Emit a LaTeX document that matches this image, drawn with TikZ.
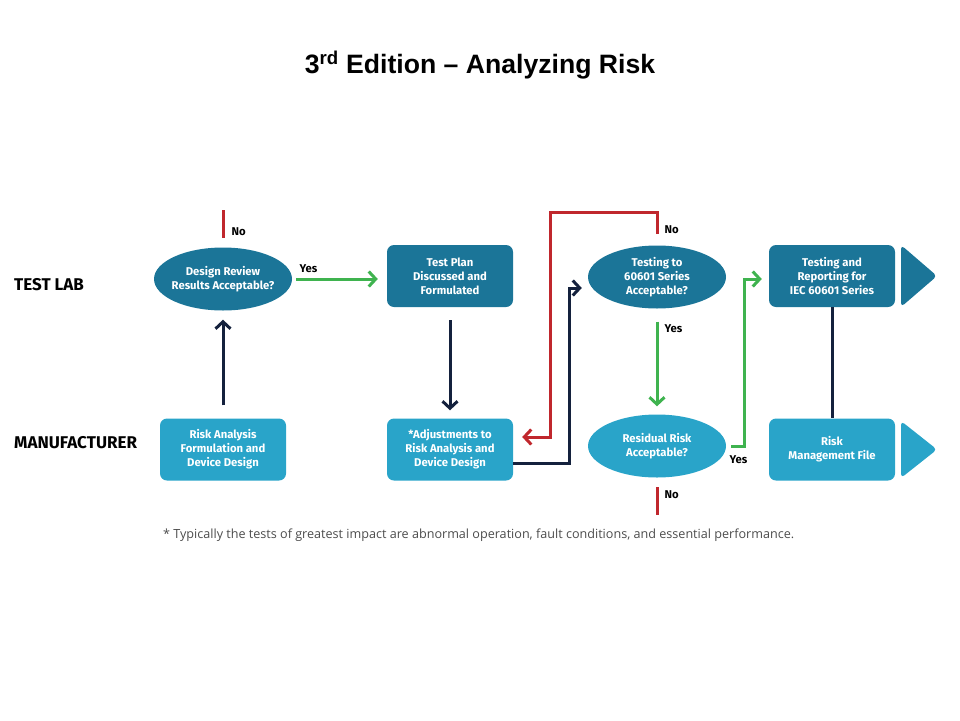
\documentclass[tikz,border=0pt]{standalone}
\usepackage{fontspec}
\setmainfont{Fira Sans}
\newfontfamily\titlefont{Liberation Sans}
\newfontfamily\notefont{Open Sans}
\usetikzlibrary{shapes.geometric, arrows.meta}

\definecolor{darkteal}{HTML}{1B7598}
\definecolor{lightteal}{HTML}{29A4C9}
\definecolor{navyline}{HTML}{14213D}
\definecolor{redline}{HTML}{C0272D}
\definecolor{greenline}{HTML}{3FB34F}

\begin{document}
\begin{tikzpicture}[x=1pt, y=-1pt,
    boxtext/.style={text=white, align=center, font=\bfseries\fontsize{11.3}{14}\selectfont},
    darkbox/.style={boxtext, fill=darkteal, rounded corners=7, minimum width=126, minimum height=62, inner sep=0},
    lightbox/.style={darkbox, fill=lightteal},
    darkoval/.style={boxtext, ellipse, fill=darkteal, minimum width=138, minimum height=63, inner ysep=0, inner xsep=-3pt},
    lightoval/.style={darkoval, fill=lightteal},
    rowlabel/.style={anchor=west, inner sep=0, font=\bfseries\fontsize{17}{20}\selectfont},
    answer/.style={anchor=west, font=\bfseries\fontsize{11.3}{13}\selectfont},
    conn/.style={line width=3pt, -{Straight Barb[length=7pt, width=15pt, line width=3pt]}},
    greenarrow/.style={conn, draw=greenline},
    redarrow/.style={conn, draw=redline},
    navyarrow/.style={conn, draw=navyline}]
  \useasboundingbox (0,0) rectangle (960,720);

  % title
  \node (title) at (480,65) {\titlefont\bfseries\fontsize{26.6}{30}\selectfont 3\textsuperscript{rd} Edition – Analyzing Risk};

  % rows
  \node[rowlabel] (lab) at (14,285) {TEST LAB};
  \node[rowlabel] (manu) at (14,443) {MANUFACTURER};

  % test lab row
  \node[darkoval] (design) at (223,279) {Design Review\\Results Acceptable?};
  \node[darkbox] (plan) at (450,276) {Test Plan\\Discussed and\\Formulated};
  \node[darkoval] (tst) at (657,277) {Testing to\\60601 Series\\Acceptable?};
  \node[darkbox] (report) at (832,276) {Testing and\\Reporting for\\IEC 60601 Series};
  \fill[darkteal, rounded corners=4] (901,245) -- (937,276) -- (901,307) -- cycle;

  % manufacturer row
  \node[lightbox] (riskan) at (223,449.5) {Risk Analysis\\Formulation and\\Device Design};
  \node[lightbox] (adj) at (450,449.5) {*Adjustments to\\Risk Analysis and\\Device Design};
  \node[lightoval] (resid) at (657,446) {Residual Risk\\Acceptable?};
  \node[lightbox] (mgmt) at (832,449.5) {Risk\\Management File};
  \fill[lightteal, rounded corners=4] (901,421) -- (937,449.5) -- (901,478) -- cycle;

  % free ends
  \coordinate (dno1) at (223,210);
  \coordinate (dno2) at (223,238);
  \coordinate (tno) at (657,234);
  \coordinate (rno1) at (657,487);
  \coordinate (rno2) at (657,515);

  % connectors
  \draw[line width=3pt, redline] (dno1) -- (dno2);
  \node[answer] (dnotext) at (228,232) {No};
  \draw[greenarrow, shorten <=4pt, shorten >=9pt] (design.east) -- (design.east -| plan.west);
  \node[answer] (dyes) at (296,269) {Yes};
  \draw[navyarrow, shorten <=13pt, shorten >=9pt] (riskan) -- (design);
  \draw[navyarrow, shorten <=13pt, shorten >=8pt] (plan) -- (adj);
  \draw[navyarrow, shorten >=6pt] ([yshift=-13.5pt]adj.east) -| (569,300) |- ([yshift=-11pt]tst.west);
  \draw[redarrow, shorten >=9pt] (tno) |- (550,212) |- ([yshift=12.5pt]adj.east);
  \node[answer] (tnotext) at (661,230) {No};
  \draw[greenarrow, shorten <=13pt, shorten >=8pt] (tst) -- (resid);
  \node[answer] (tyes) at (661,329) {Yes};
  \draw[greenarrow, shorten <=5pt, shorten >=7pt] (resid.east) -| (744,300) |- ([yshift=-3pt]report.west);
  \node[answer] (ryes) at (726,460) {Yes};
  \draw[line width=3pt, redline] (rno1) -- (rno2);
  \node[answer] (rnotext) at (661,495) {No};
  \draw[line width=3pt, navyline] (report) -- (mgmt);

  % footnote
  \node[anchor=west, inner sep=0, text=black!70] (note) at (163,535) {\notefont\fontsize{12.6}{15}\selectfont * Typically the tests of greatest impact are abnormal operation, fault conditions, and essential performance.};
\end{tikzpicture}
\end{document}
